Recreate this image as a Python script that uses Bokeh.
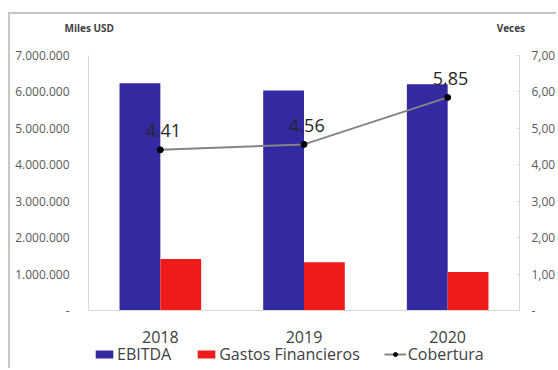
from bokeh.plotting import figure
from bokeh.models import (Range1d, LinearAxis, FixedTicker, Legend, LegendItem,
                          ColumnDataSource)
from bokeh.transform import dodge
from bokeh.core.properties import value
from bokeh.embed import file_html
from bokeh.resources import INLINE

# ---- data ----
years = ["2018", "2019", "2020"]
ebitda = [6240000, 6040000, 6210000]
gastos = [1415000, 1325000, 1060000]
cobertura = [4.41, 4.56, 5.85]
cobertura_labels = ["4.41", "4.56", "5,85"]
left_ticks = [0, 1000000, 2000000, 3000000, 4000000, 5000000, 6000000, 7000000]
left_tick_labels = ["-", "1.000.000", "2.000.000", "3.000.000", "4.000.000",
                    "5.000.000", "6.000.000", "7.000.000"]
right_ticks = [0, 1, 2, 3, 4, 5, 6, 7]
right_tick_labels = ["-", "1,00", "2,00", "3,00", "4,00", "5,00", "6,00", "7,00"]
unit_titles = ["Miles USD", "Veces"]

FONT = "Open Sans"
BLUE = "#3329A0"
RED = "#F01A1A"

# frame extends below the x axis (legend lives inside); axes are bounded
Y_TOP, Y_BOT = 7274500, -1647000
V_TOP, V_BOT = 7.2745, -1.647
UNIT_POS = [0.005, 2.94]      # anchors of the unit titles (category units)

src = ColumnDataSource(dict(year=years, ebitda=ebitda, gastos=gastos,
                            cob=cobertura, cob_lbl=cobertura_labels))

p = figure(width=548, height=356, x_range=years, y_range=Range1d(Y_BOT, Y_TOP),
           output_backend="svg", toolbar_location=None,
           min_border_left=78, min_border_right=37, min_border_top=31,
           min_border_bottom=0, margin=(12, 0, 0, 8))
p.styles = {"border-top": "2px solid #C6C6C6", "border-left": "2px solid #C6C6C6"}
p.outline_line_color = None
p.xgrid.visible = False
p.ygrid.visible = False
p.background_fill_color = "white"
p.border_fill_color = "white"
p.extra_y_ranges = {"veces": Range1d(V_BOT, V_TOP)}

# x axis (categories) drawn at y = 0 inside the frame
xa = p.below[0]
xa.fixed_location = 0
xa.axis_line_color = "#D9D9D9"
xa.major_tick_line_color = None
xa.minor_tick_line_color = None
xa.major_label_standoff = 14
xa.major_label_text_font = FONT
xa.major_label_text_font_size = "16px"
xa.major_label_text_color = "#404040"

# left axis
ya = p.left[0]
ya.ticker = FixedTicker(ticks=left_ticks)
ya.bounds = (0, 7000000)
ya.major_label_overrides = {t: l for t, l in zip(left_ticks, left_tick_labels)}
ya.axis_line_color = "#D9D9D9"
ya.major_tick_line_color = None
ya.minor_tick_line_color = None
ya.major_label_standoff = 13
ya.major_label_text_font = FONT
ya.major_label_text_font_size = "12px"
ya.major_label_text_color = "#595959"

# right axis
ra = LinearAxis(y_range_name="veces", ticker=FixedTicker(ticks=right_ticks),
                bounds=(0, 7))
ra.major_label_overrides = {t: l for t, l in zip(right_ticks, right_tick_labels)}
ra.axis_line_color = "#D9D9D9"
ra.major_tick_line_color = "#D9D9D9"
ra.major_tick_in = 3
ra.major_tick_out = 0
ra.minor_tick_line_color = None
ra.major_label_standoff = 12
ra.major_label_text_font = FONT
ra.major_label_text_font_size = "12px"
ra.major_label_text_color = "#595959"
p.add_layout(ra, "right")

# unit titles above the two value axes
ta = LinearAxis(ticker=FixedTicker(ticks=UNIT_POS), bounds=(-1, 4))
ta.major_label_overrides = {t: l for t, l in zip(UNIT_POS, unit_titles)}
ta.axis_line_color = None
ta.major_tick_line_color = None
ta.minor_tick_line_color = None
ta.major_label_standoff = 5
ta.major_label_text_font = FONT
ta.major_label_text_font_size = "10px"
ta.major_label_text_font_style = "bold"
ta.major_label_text_color = "#404040"
p.add_layout(ta, "above")

# bars
b1 = p.vbar(x=dodge("year", -0.142, range=p.x_range), top="ebitda", width=0.284,
            source=src, fill_color=BLUE, line_color=None)
b2 = p.vbar(x=dodge("year", 0.142, range=p.x_range), top="gastos", width=0.284,
            source=src, fill_color=RED, line_color=None)

# line
l1 = p.line(x="year", y="cob", source=src, y_range_name="veces",
            line_color="#858585", line_width=2)
s1 = p.scatter(x="year", y="cob", source=src, y_range_name="veces",
               size=6, fill_color="black", line_color="black")
p.text(x=dodge("year", 0.02, range=p.x_range), y="cob", text="cob_lbl", source=src,
       y_range_name="veces", text_font=value(FONT), text_font_size="18px",
       text_color="#262626", text_align="center", text_baseline="middle",
       y_offset=-19)

legend = Legend(items=[LegendItem(label="EBITDA", renderers=[b1]),
                       LegendItem(label="Gastos Financieros", renderers=[b2]),
                       LegendItem(label="Cobertura", renderers=[l1, s1])],
                orientation="horizontal", location=(5, 5),
                margin=0, padding=0, spacing=24, label_standoff=2,
                glyph_width=22, glyph_height=10, label_height=20,
                label_text_font=FONT, label_text_font_size="16px",
                label_text_color="#404040", border_line_color=None,
                background_fill_alpha=0)
p.add_layout(legend)

open("out.html", "w").write(file_html(p, INLINE))
